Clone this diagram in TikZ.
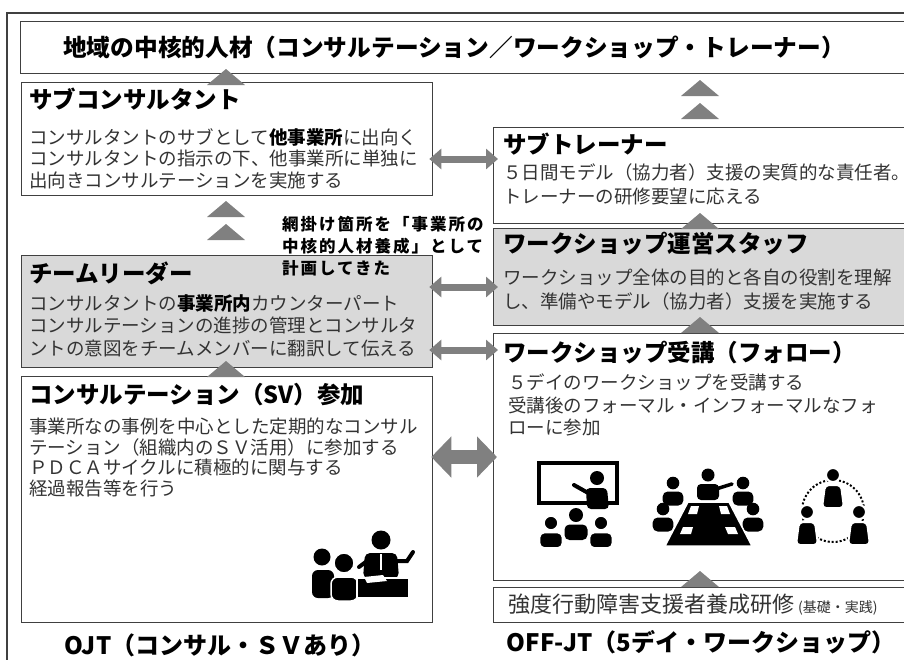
\documentclass[tikz,border=0pt]{standalone}
\usepackage{fontspec}
\setmainfont{Noto Sans CJK JP}
\newfontfamily\notefont{Noto Sans CJK JP}[LetterSpace=12]
\usetikzlibrary{arrows.meta}

\definecolor{framegray}{HTML}{404040}
\definecolor{shade}{HTML}{D9D9D9}
\definecolor{arrowgray}{HTML}{808080}
\definecolor{bodytext}{HTML}{333333}

\tikzset{
  box/.style={draw=framegray, line width=1.3pt, fill=white, anchor=north west, inner sep=0pt},
  shadebox/.style={box, fill=shade},
  head/.style={anchor=west, inner sep=0pt, font=\fontsize{23.5}{26}\selectfont\bfseries},
  body/.style={anchor=north west, inner sep=0pt, align=left, text=bodytext},
  link/.style={draw=arrowgray, line width=7pt,
    {Triangle[length=12pt,width=20pt]}-{Triangle[length=12pt,width=20pt]}},
  biglink/.style={draw=arrowgray, line width=14pt,
    {Triangle[length=20pt,width=40pt]}-{Triangle[length=20pt,width=40pt]}},
  uptri/.pic={\fill[arrowgray] (-19,0) -- (19,0) -- (0,-16) -- cycle;},
  person/.pic={
    \path[fill=black, pic actions] (0,0) circle[radius=7];
    \path[fill=black, pic actions, rounded corners=5pt] (-11.5,25) -- (-11.5,9.5) -- (11.5,9.5) -- (11.5,25) -- cycle;
  },
  tallperson/.pic={
    \path[fill=black, pic actions] (0,0) circle[radius=7];
    \path[fill=black, pic actions, rounded corners=4pt] (-11,33) -- (-8,10) -- (8,10) -- (11,33) -- cycle;
  },
}

\begin{document}
\begin{tikzpicture}[x=1pt, y=-1pt]
\useasboundingbox (0,0) rectangle (904,659);
\clip (0,0) rectangle (904,659);
\fill[white] (0,0) rectangle (904,659);

% outer frame
\draw[framegray, line width=2pt] (7,670) -- (7,13) -- (920,13);

% boxes
\node[box, minimum width=900pt, minimum height=52pt] (top) at (20,21) {};
\node[box, minimum width=411pt, minimum height=113pt] (subcons) at (21,82) {};
\node[box, minimum width=430pt, minimum height=96pt] (subtrainer) at (493,127) {};
\node[shadebox, minimum width=430pt, minimum height=97pt] (staff) at (493,228) {};
\node[shadebox, minimum width=411pt, minimum height=112pt] (leader) at (21,255) {};
\node[box, minimum width=411pt, minimum height=246pt] (consult) at (21,376) {};
\node[box, minimum width=430pt, minimum height=247pt] (course) at (493,333) {};
\node[box, minimum width=430pt, minimum height=35pt] (basic) at (493,587) {};

% upward steps
\foreach \y in {85,217,240,377} \pic at (226,\y) {uptri};
\foreach \y in {96,119,229,333,587} \pic at (700,\y) {uptri};

% two-way links between the columns
\draw[link, shorten <=-4pt, shorten >=-5pt] (subcons.east |- 0,159) -- (subtrainer.west |- 0,159);
\draw[link, shorten <=-4pt, shorten >=-5pt] (leader.east |- 0,287) -- (staff.west |- 0,287);
\draw[link, shorten <=-4pt, shorten >=-5pt] (leader.east |- 0,350) -- (course.west |- 0,350);
\draw[biglink, shorten <=-2pt, shorten >=-4pt] (consult.east |- 0,457) -- (course.west |- 0,457);

% texts
\node[head, font=\fontsize{23.7}{26}\selectfont\bfseries] (toptext) at (63,47)
  {地域の中核的人材（コンサルテーション／ワークショップ・トレーナー）};

\node[head] (subconshead) at (29,99) {サブコンサルタント};
\node[body, font=\fontsize{18.5}{21.5}\selectfont] (subconsbody) at (29,128)
  {コンサルタントのサブとして{\bfseries\color{black}他事業所}に出向く\\
   コンサルタントの指示の下、他事業所に単独に\\
   出向きコンサルテーションを実施する};

\node[head] (subtrainerhead) at (503,144) {サブトレーナー};
\node[body, font=\fontsize{18.5}{24}\selectfont] (subtrainerbody) at (503,163)
  {５日間モデル（協力者）支援の実質的な責任者。\\
   トレーナーの研修要望に応える};

\node[head] (staffhead) at (503,244) {ワークショップ運営スタッフ};
\node[body, font=\fontsize{18.5}{24}\selectfont] (staffbody) at (503,269)
  {ワークショップ全体の目的と各自の役割を理解\\
   し、準備やモデル（協力者）支援を実施する};

\node[head] (leaderhead) at (29,273) {チームリーダー};
\node[body, font=\fontsize{18.5}{22.5}\selectfont] (leaderbody) at (29,294)
  {コンサルタントの{\bfseries\color{black}事業所内}カウンターパート\\
   コンサルテーションの進捗の管理とコンサルタ\\
   ントの意図をチームメンバーに翻訳して伝える};

\node[anchor=north west, inner sep=0pt, align=left,
      font=\notefont\fontsize{16.5}{22}\selectfont\bfseries] (note) at (282,216)
  {網掛け箇所を「事業所の\\中核的人材養成」として\\計画してきた};

\node[head] (consulthead) at (29,395) {コンサルテーション（SV）参加};
\node[body, font=\fontsize{18.5}{20.5}\selectfont] (consultbody) at (29,418)
  {事業所なの事例を中心とした定期的なコンサル\\
   テーション（組織内のＳＶ活用）に参加する\\
   ＰＤＣＡサイクルに積極的に関与する\\
   経過報告等を行う};

\node[head] (coursehead) at (503,353) {ワークショップ受講（フォロー）};
\node[body, font=\fontsize{18.5}{22.5}\selectfont] (coursebody) at (508,374)
  {５デイのワークショップを受講する\\
   受講後のフォーマル・インフォーマルなフォ\\
   ローに参加};

\node[anchor=west, inner sep=0pt, text=bodytext, font=\fontsize{22}{24}\selectfont] (basictext) at (508,605)
  {強度行動障害支援者養成研修\hspace{4pt}{\fontsize{14}{16}\selectfont (基礎・実践)}};

\node[inner sep=0pt, font=\fontsize{24}{26}\selectfont\bfseries] (ojt) at (220,645) {OJT（コンサル・ＳＶあり）};
\node[inner sep=0pt, font=\fontsize{24}{26}\selectfont\bfseries] (offjt) at (701,642) {OFF-JT（5デイ・ワークショップ）};

% lecture icon
\draw[line width=4.5pt] (539,463) rectangle (617,503);
\fill (597,478) circle[radius=7];
\fill[rounded corners=4pt] (587,509) -- (586,488) -- (607,488) -- (609,509) -- cycle;
\draw[line width=4pt, line cap=round] (590,494) -- (574,485);
\pic at (576,515) {person};
\pic[draw=white, line width=1.6pt] at (551,523) {person};
\pic[draw=white, line width=1.6pt] at (601,523) {person};

% meeting icon
\fill (708,475) circle[radius=6.5];
\fill[rounded corners=4pt] (697,500) -- (697,484) -- (719,484) -- (719,500) -- cycle;
\draw[line width=3.5pt, line cap=round] (716,489) -- (732,484);
\pic[scale=0.9] at (673,483) {person};
\pic[scale=0.9] at (663,509) {person};
\pic[scale=0.9] at (743,483) {person};
\pic[scale=0.9] at (753,509) {person};
\filldraw[draw=white, line width=1.5pt] (688,502) -- (729,502) -- (752,546) -- (665,546) -- cycle;
\fill[white] (691,506) -- (699,506) -- (697,514) -- (688,514) -- cycle;
\fill[white] (719,506) -- (727,506) -- (730,514) -- (721,514) -- cycle;
\fill[white] (683,527) -- (693,527) -- (691,534) -- (680,534) -- cycle;
\fill[white] (725,527) -- (735,527) -- (738,534) -- (728,534) -- cycle;

% group icon
\draw[dotted, line width=2pt] (833,511) circle[radius=31];
\pic[draw=white, line width=2pt] at (833,475) {tallperson};
\pic[draw=white, line width=2pt] at (807,512) {tallperson};
\pic[draw=white, line width=2pt] at (859,512) {tallperson};

% supervision icon
\fill (322,557) circle[radius=8.5];
\fill[rounded corners=6pt] (312,598) -- (312,570) -- (334,570) -- (334,598) -- cycle;
\filldraw[draw=white, line width=1.5pt] (344,563) circle[radius=10];
\filldraw[draw=white, line width=1.5pt, rounded corners=7pt] (331,601) -- (331,577) -- (358,577) -- (358,601) -- cycle;
\fill (381,540) circle[radius=9.5];
\fill[rounded corners=5pt] (363,578) -- (365,553) -- (397,553) -- (399,578) -- cycle;
\draw[white, line width=1.5pt] (381,554) -- (381,570);
\draw[line width=4pt, line cap=round] (395,561) -- (407,561) -- (413,552);
\draw[line width=4pt, line cap=round] (367,561) -- (359,567);
\filldraw[draw=white, line width=1.5pt] (357,578) rectangle (409,598);
\fill[white] (364,577) -- (383,575) -- (387,581) -- (367,583) -- cycle;
\end{tikzpicture}
\end{document}
